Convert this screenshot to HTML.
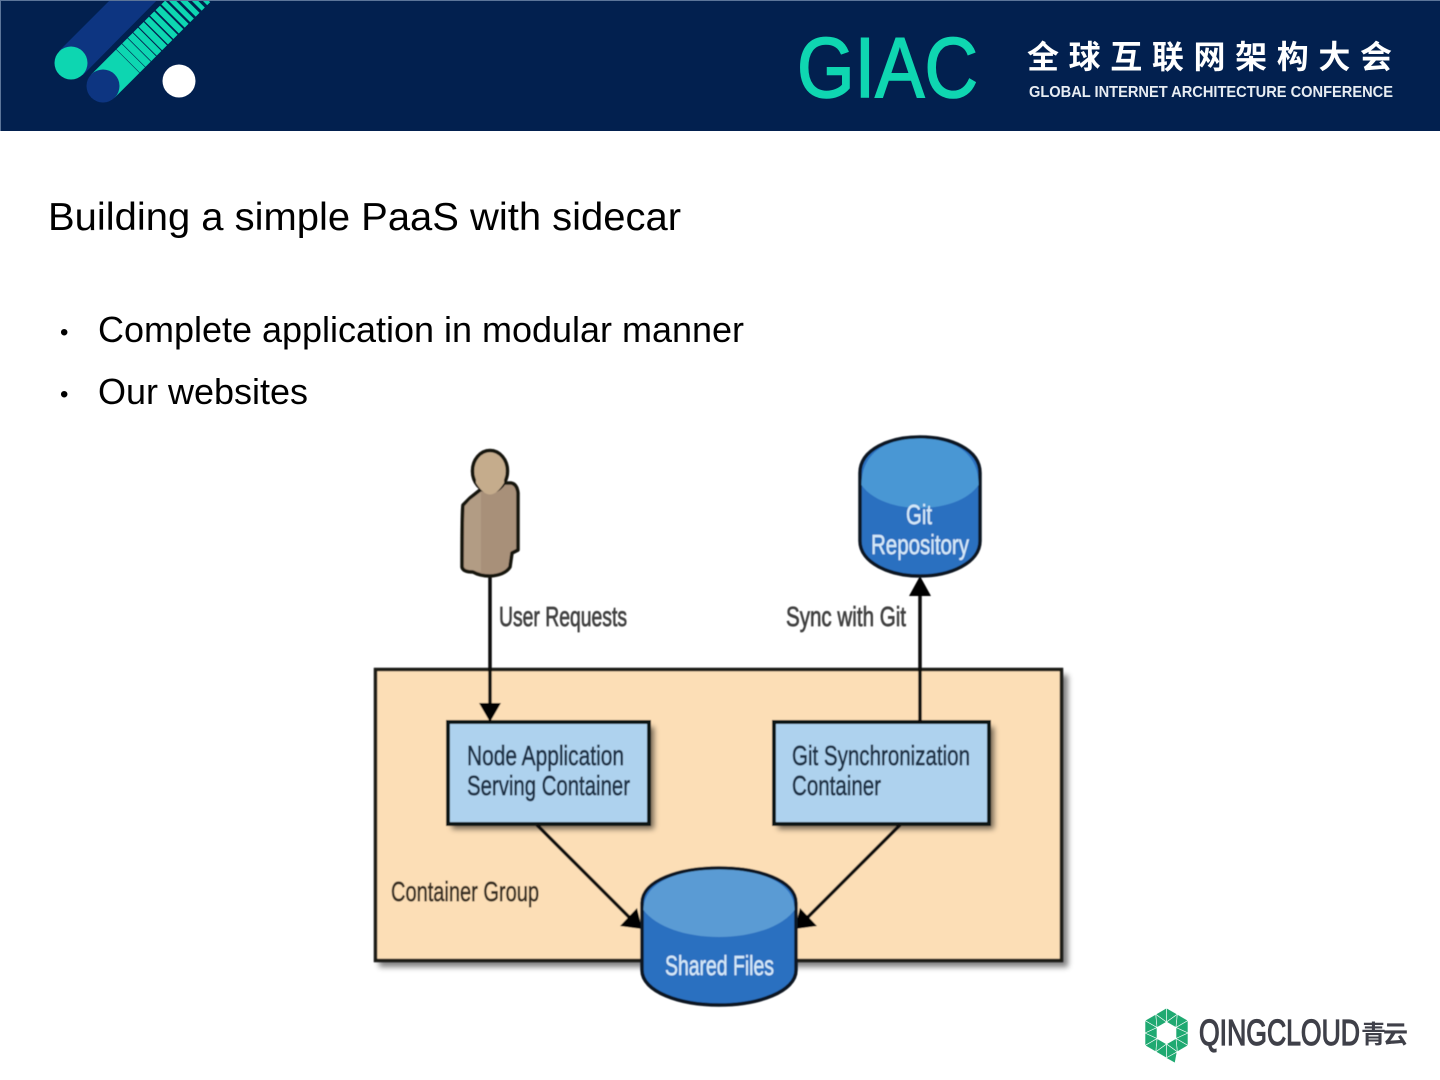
<!DOCTYPE html>
<html lang="en"><head><meta charset="utf-8"><title>Building a simple PaaS with sidecar</title>
<style>
html,body{margin:0;padding:0;background:#fff;width:1440px;height:1080px;overflow:hidden}
svg{display:block}
text{font-family:"Liberation Sans","Noto Sans CJK SC",sans-serif}
</style></head><body>
<svg width="1440" height="1080" viewBox="0 0 1440 1080" xmlns="http://www.w3.org/2000/svg">
<defs>
<clipPath id="hdr"><rect x="0" y="1" width="1440" height="130"/></clipPath>
<filter id="b1" x="-5%" y="-5%" width="110%" height="110%"><feGaussianBlur stdDeviation="0.6"/></filter>
<filter id="b2" x="-5%" y="-5%" width="110%" height="110%"><feGaussianBlur stdDeviation="0.35"/></filter>
<filter id="sh" x="-10%" y="-10%" width="120%" height="125%"><feGaussianBlur stdDeviation="3"/></filter>
</defs>

<!-- header -->
<rect x="0" y="0" width="1440" height="131" fill="#02204f"/>
<rect x="0" y="0" width="1440" height="1" fill="#5c7599"/>
<rect x="0" y="0" width="1" height="131" fill="#5c7599"/>
<g clip-path="url(#hdr)" filter="url(#b2)">
  <polygon points="59,51 118,-8 165,-8 83,75" fill="#0a3581"/>
  <circle cx="71" cy="63" r="16.5" fill="#0fd6b1"/>
  <g transform="translate(103 86) rotate(-45)">
    <rect x="0" y="-16.5" width="165" height="33" fill="#0fd6b1"/>
    <rect x="35" y="-17" width="0.5" height="34" fill="#02204f"/>
    <rect x="43" y="-17" width="0.6" height="34" fill="#02204f"/>
    <rect x="51" y="-17" width="0.7" height="34" fill="#02204f"/>
    <rect x="58.5" y="-17" width="0.9" height="34" fill="#02204f"/>
    <rect x="66" y="-17" width="1.1" height="34" fill="#02204f"/>
    <rect x="74" y="-17" width="1.3" height="34" fill="#02204f"/>
    <rect x="81.5" y="-17" width="1.5" height="34" fill="#02204f"/>
    <rect x="89" y="-17" width="1.8" height="34" fill="#02204f"/>
    <rect x="97" y="-17" width="2" height="34" fill="#02204f"/>
    <rect x="104.5" y="-17" width="2.3" height="34" fill="#02204f"/>
    <rect x="112" y="-17" width="2.6" height="34" fill="#02204f"/>
    <rect x="120" y="-17" width="3" height="34" fill="#02204f"/>
    <rect x="127.5" y="-17" width="3.3" height="34" fill="#02204f"/>
    <rect x="135" y="-17" width="3.8" height="34" fill="#02204f"/>
    <rect x="143" y="-17" width="4.2" height="34" fill="#02204f"/>
  </g>
  <circle cx="103" cy="86" r="16.5" fill="#0a3581"/>
  <circle cx="179" cy="81" r="16.5" fill="#ffffff"/>
</g>
<text x="797" y="97" font-size="85" fill="#0fd6b1" stroke="#0fd6b1" stroke-width="1.6" textLength="181" lengthAdjust="spacingAndGlyphs">GIAC</text>
<text x="1027" y="68" font-size="32" font-weight="700" fill="#ffffff" textLength="365" lengthAdjust="spacing">全球互联网架构大会</text>
<text x="1029" y="97" font-size="16" font-weight="700" fill="#e8edf3" textLength="364" lengthAdjust="spacingAndGlyphs">GLOBAL INTERNET ARCHITECTURE CONFERENCE</text>

<!-- slide text -->
<text x="48" y="230" font-size="38.5" fill="#000" textLength="633" lengthAdjust="spacingAndGlyphs">Building a simple PaaS with sidecar</text>
<text x="60" y="340" font-size="24" fill="#000">•</text>
<text x="98" y="342" font-size="36" fill="#000" textLength="646" lengthAdjust="spacingAndGlyphs">Complete application in modular manner</text>
<text x="60" y="402" font-size="24" fill="#000">•</text>
<text x="98" y="404" font-size="36" fill="#000" textLength="210" lengthAdjust="spacingAndGlyphs">Our websites</text>

<!-- diagram -->
<g filter="url(#b1)">
  <rect x="379" y="675" width="689" height="292" fill="#000" opacity=".5" filter="url(#sh)"/>
  <rect x="375.500" y="669.500" width="686" height="291" fill="#fcdeb6" stroke="#1c1a18" stroke-width="3.5"/>

  <rect x="452" y="727" width="202" height="102" fill="#000" opacity=".55" filter="url(#sh)"/>
  <rect x="448" y="722" width="201" height="102" fill="#aed2ee" stroke="#0c1218" stroke-width="4"/>
  <rect x="778" y="727" width="216" height="102" fill="#000" opacity=".55" filter="url(#sh)"/>
  <rect x="774" y="722" width="215" height="102" fill="#aed2ee" stroke="#0c1218" stroke-width="4"/>

  <!-- connectors -->
  <g stroke="#0a0a0a" stroke-width="3.5" fill="none">
    <line x1="490" y1="574" x2="490" y2="706"/>
    <line x1="920" y1="722" x2="920" y2="594"/>
    <line x1="537" y1="825" x2="630" y2="918"/>
    <line x1="900" y1="825" x2="807" y2="918"/>
  </g>
  <g fill="#000">
    <polygon points="479,703 501,703 490,722"/>
    <polygon points="909,596 931,596 920,576"/>
    <polygon points="620,926 637,908 642,929"/>
    <polygon points="817,926 800,908 795,929"/>
  </g>

  <!-- person -->
  <path d="M480 490 L470 498 L463 505 Q462 510 462 567 Q463 572 473 572 Q480 576 490 576 Q505 575 510 567 L512 553 L518 550 L518 493 Q517 484 511 483 L503 483 L480 490Z" fill="#a89079" stroke="#141210" stroke-width="3.5" stroke-linejoin="round"/>
  <path d="M481 492 L470 500 L465 506 L464 566 Q466 570 473 570 L481 572Z" fill="#b29c84"/>
  <ellipse cx="490" cy="471" rx="17.500" ry="20.500" fill="#c5ac8c" stroke="#141210" stroke-width="3.5"/>
  <path d="M476 483 Q490 506 504 483 L504 478 L476 478Z" fill="#c5ac8c"/>

  <!-- git cylinder -->
  <path d="M860 473 C860 449 890 437 920 437 C950 437 980 449 980 473 L980 541 C980 563 950 576 920 576 C890 576 860 563 860 541Z" fill="#2a70c0" stroke="#0a1520" stroke-width="3.5"/>
  <path d="M861.500 485 C861.500 450 890 438.500 920 438.500 C950 438.500 978.500 450 978.500 485 C968 500 945 508 920 508 C895 508 872 500 861.500 485Z" fill="#4a97d4"/>

  <!-- shared cylinder -->
  <path d="M642 903 C642 880 680 868 719 868 C758 868 796 880 796 903 L796 970 C796 992 758 1005 719 1005 C680 1005 642 992 642 970Z" fill="#2a70c0" stroke="#0a1520" stroke-width="3.5"/>
  <path d="M643.500 910 C643.500 881 680 869.500 719 869.500 C758 869.500 794.500 881 794.500 910 C782 927 752 937 719 937 C686 937 656 927 643.500 910Z" fill="#5a9bd4"/>

  <!-- labels -->
  <g font-size="28" stroke-width="0.7">
    <text x="499" y="626" fill="#404040" stroke="#404040" textLength="128" lengthAdjust="spacingAndGlyphs">User Requests</text>
    <text x="786" y="626" fill="#404040" stroke="#404040" textLength="120" lengthAdjust="spacingAndGlyphs">Sync with Git</text>
    <text x="467" y="765" fill="#1c3046" stroke="#1c3046" textLength="157" lengthAdjust="spacingAndGlyphs">Node Application</text>
    <text x="467" y="795" fill="#1c3046" stroke="#1c3046" textLength="163" lengthAdjust="spacingAndGlyphs">Serving Container</text>
    <text x="792" y="765" fill="#1c3046" stroke="#1c3046" textLength="178" lengthAdjust="spacingAndGlyphs">Git Synchronization</text>
    <text x="792" y="795" fill="#1c3046" stroke="#1c3046" textLength="89" lengthAdjust="spacingAndGlyphs">Container</text>
    <text x="391" y="901" fill="#382f24" stroke="#382f24" textLength="148" lengthAdjust="spacingAndGlyphs">Container Group</text>
    <text x="906" y="524" fill="#d4e8f8" stroke="#d4e8f8" stroke-width="0.4" textLength="26" lengthAdjust="spacingAndGlyphs">Git</text>
    <text x="871" y="554" fill="#d4e8f8" stroke="#d4e8f8" stroke-width="0.4" textLength="98" lengthAdjust="spacingAndGlyphs">Repository</text>
    <text x="665" y="975" fill="#d4e8f8" stroke="#d4e8f8" stroke-width="0.4" textLength="109" lengthAdjust="spacingAndGlyphs">Shared Files</text>
  </g>
</g>

<!-- footer logo -->
<g fill="#1fa971" stroke="#fff" stroke-width="0.6" stroke-linejoin="round">
  <polygon points="1166.500,1008 1177.300,1014.300 1166.500,1022"/>
  <polygon points="1177.300,1014.300 1166.500,1022 1176,1027.500"/>
  <polygon points="1177.300,1014.300 1188,1020.500 1176,1027.500"/>
  <polygon points="1188,1020.500 1188,1033 1176,1027.500"/>
  <polygon points="1188,1033 1176,1027.500 1176,1038.500"/>
  <polygon points="1188,1033 1188,1045.500 1176,1038.500"/>
  <polygon points="1188,1045.500 1177.300,1051.800 1176,1038.500"/>
  <polygon points="1177.300,1051.800 1176,1038.500 1166.500,1044"/>
  <polygon points="1177.300,1051.800 1166.500,1058 1166.500,1044"/>
  <polygon points="1166.500,1058 1155.800,1051.800 1166.500,1044"/>
  <polygon points="1155.800,1051.800 1166.500,1044 1157,1038.500"/>
  <polygon points="1155.800,1051.800 1145,1045.500 1157,1038.500"/>
  <polygon points="1145,1045.500 1145,1033 1157,1038.500"/>
  <polygon points="1145,1033 1157,1038.500 1157,1027.500"/>
  <polygon points="1145,1033 1145,1020.500 1157,1027.500"/>
  <polygon points="1145,1020.500 1155.800,1014.300 1157,1027.500"/>
  <polygon points="1155.800,1014.300 1157,1027.500 1166.500,1022"/>
  <polygon points="1155.800,1014.300 1166.500,1008 1166.500,1022"/>
  <polygon points="1166,1058 1177,1052 1175,1063"/>
</g>
<text x="1199" y="1045" font-size="36" fill="#3f4049" stroke="#3f4049" stroke-width="1.3" textLength="161" lengthAdjust="spacingAndGlyphs">QINGCLOUD</text>
<text x="1361" y="1043" font-size="25" font-weight="700" fill="#3f4049" textLength="47" lengthAdjust="spacing">青云</text>
</svg>
</body></html>
